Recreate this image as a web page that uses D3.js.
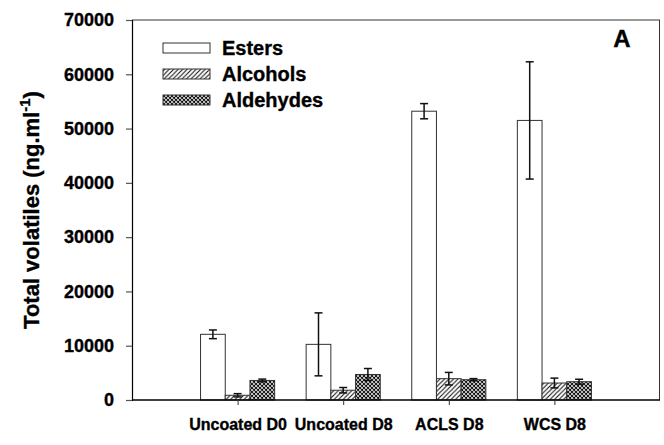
<!DOCTYPE html>
<html>
<head>
<meta charset="utf-8">
<script src="https://cdn.jsdelivr.net/npm/d3@7"></script>
<style>
  body { margin: 0; background: #fff; }
  text { font-family: Arial, "Liberation Sans", sans-serif; font-weight: bold; fill: #000; stroke: #000; stroke-width: 0.35px; }
</style>
</head>
<body>
<div id="chart"></div>
<script>
const categories = ['Uncoated D0', 'Uncoated D8', 'ACLS D8', 'WCS D8'];
const seriesNames = ['Esters', 'Alcohols', 'Aldehydes'];
const esters = [12100, 10250, 53200, 51500];
const estersErr = [800, 5800, 1400, 10800];
const alcohols = [870, 1800, 3930, 3130];
const alcoholsErr = [300, 500, 1150, 900];
const aldehydes = [3600, 4700, 3740, 3370];
const aldehydesErr = [250, 1100, 200, 450];
const yTicks = [0, 10000, 20000, 30000, 40000, 50000, 60000, 70000];

const width = 664, height = 445;
const margin = { top: 20, right: 4, bottom: 45, left: 132 };
const font = 'Arial, "Liberation Sans", sans-serif';

const svg = d3.select('#chart').append('svg')
  .attr('width', width)
  .attr('height', height);

// patterns for the hatched bars
const defs = svg.append('defs');
const hatch = defs.append('pattern')
  .attr('id', 'hatch')
  .attr('patternUnits', 'userSpaceOnUse')
  .attr('width', 4.5).attr('height', 4.5);
hatch.append('rect').attr('width', 4.5).attr('height', 4.5).attr('fill', '#fff');
hatch.append('path')
  .attr('d', 'M-1,1 l2,-2 M0,4.5 l4.5,-4.5 M3.5,5.5 l2,-2')
  .attr('stroke', '#111').attr('stroke-width', 1.1);

const cross = defs.append('pattern')
  .attr('id', 'cross')
  .attr('patternUnits', 'userSpaceOnUse')
  .attr('width', 4).attr('height', 4);
cross.append('rect').attr('width', 4).attr('height', 4).attr('fill', '#fff');
cross.append('path')
  .attr('d', 'M-1,1 l2,-2 M0,4 l4,-4 M3,5 l2,-2 M-1,3 l2,2 M0,0 l4,4 M3,-1 l2,2')
  .attr('stroke', '#111').attr('stroke-width', 1.1);

const fills = ['#fff', 'url(#hatch)', 'url(#cross)'];
const values = [esters, alcohols, aldehydes];
const errors = [estersErr, alcoholsErr, aldehydesErr];

const x = d3.scalePoint()
  .domain(categories)
  .range([margin.left, width - margin.right])
  .padding(1);

const y = d3.scaleLinear()
  .domain([0, 70000])
  .range([height - margin.bottom, margin.top]);

const barW = 24.7;
const inner = d3.scaleBand()
  .domain(seriesNames)
  .range([-barW * 1.5, barW * 1.5]);

// frame: top and right
svg.append('line')
  .attr('x1', margin.left).attr('x2', width - margin.right)
  .attr('y1', y(70000)).attr('y2', y(70000))
  .attr('stroke', '#777').attr('stroke-width', 1.5);
svg.append('line')
  .attr('x1', width - margin.right - 0.5).attr('x2', width - margin.right - 0.5)
  .attr('y1', y(70000)).attr('y2', y(0))
  .attr('stroke', '#333').attr('stroke-width', 1);

// bars
seriesNames.forEach((s, si) => {
  svg.append('g').selectAll('rect')
    .data(categories)
    .enter()
    .append('rect')
    .attr('x', d => x(d) + inner(s))
    .attr('y', (d, i) => y(values[si][i]))
    .attr('width', inner.bandwidth())
    .attr('height', (d, i) => y(0) - y(values[si][i]))
    .attr('fill', fills[si])
    .attr('stroke', '#333')
    .attr('stroke-width', 1);
});

// error bars
seriesNames.forEach((s, si) => {
  const g = svg.append('g').attr('stroke', '#111').attr('stroke-width', 1.5);
  categories.forEach((c, i) => {
    const cx = x(c) + inner(s) + inner.bandwidth() / 2;
    const hi = y(values[si][i] + errors[si][i]);
    const lo = y(Math.max(0, values[si][i] - errors[si][i]));
    g.append('line').attr('x1', cx).attr('x2', cx).attr('y1', hi).attr('y2', lo);
    g.append('line').attr('x1', cx - 4).attr('x2', cx + 4).attr('y1', hi).attr('y2', hi);
    g.append('line').attr('x1', cx - 4).attr('x2', cx + 4).attr('y1', lo).attr('y2', lo);
  });
});

// y axis
const yAxis = svg.append('g')
  .attr('transform', `translate(${margin.left},0)`)
  .call(d3.axisLeft(y).tickValues(yTicks).tickSize(6).tickPadding(12).tickFormat(d3.format('d')));
yAxis.select('.domain').attr('stroke', '#000').attr('stroke-width', 1.2);
yAxis.selectAll('.tick line').attr('stroke', '#555').attr('stroke-width', 1.2);
yAxis.selectAll('.tick text')
  .style('font-family', font)
  .style('font-weight', 'bold').style('font-size', '18px');

// x axis
const xAxis = svg.append('g')
  .attr('transform', `translate(0,${y(0)})`)
  .call(d3.axisBottom(x).tickSize(5).tickSizeOuter(0).tickPadding(14));
xAxis.select('.domain').attr('stroke', '#000').attr('stroke-width', 1.5)
  .attr('d', `M${margin.left},0H${width - margin.right}`);
xAxis.selectAll('.tick line').attr('stroke', '#333');
xAxis.selectAll('.tick text')
  .style('font-family', font)
  .style('font-weight', 'bold').style('font-size', '16px');

// y label
const yLabel = svg.append('text')
  .attr('transform', `translate(39,${(y(0) + y(70000)) / 2}) rotate(-90)`)
  .attr('text-anchor', 'middle')
  .style('font-size', '22px');
yLabel.append('tspan').text('Total volatiles (ng.ml');
yLabel.append('tspan').attr('dy', -9).style('font-size', '15px').text('-1');
yLabel.append('tspan').attr('dy', 9).text(')');

// legend
const legend = svg.append('g');
seriesNames.forEach((s, si) => {
  const ly = 43 + si * 26;
  legend.append('rect')
    .attr('x', 163).attr('y', ly)
    .attr('width', 47).attr('height', 10)
    .attr('fill', fills[si]).attr('stroke', '#333');
  legend.append('text')
    .attr('x', 222).attr('y', ly + 12)
    .style('font-size', '20px')
    .text(s);
});

// panel letter
svg.append('text')
  .attr('x', 622).attr('y', 47)
  .attr('text-anchor', 'middle')
  .style('font-size', '24px')
  .text('A');
</script>
</body>
</html>
